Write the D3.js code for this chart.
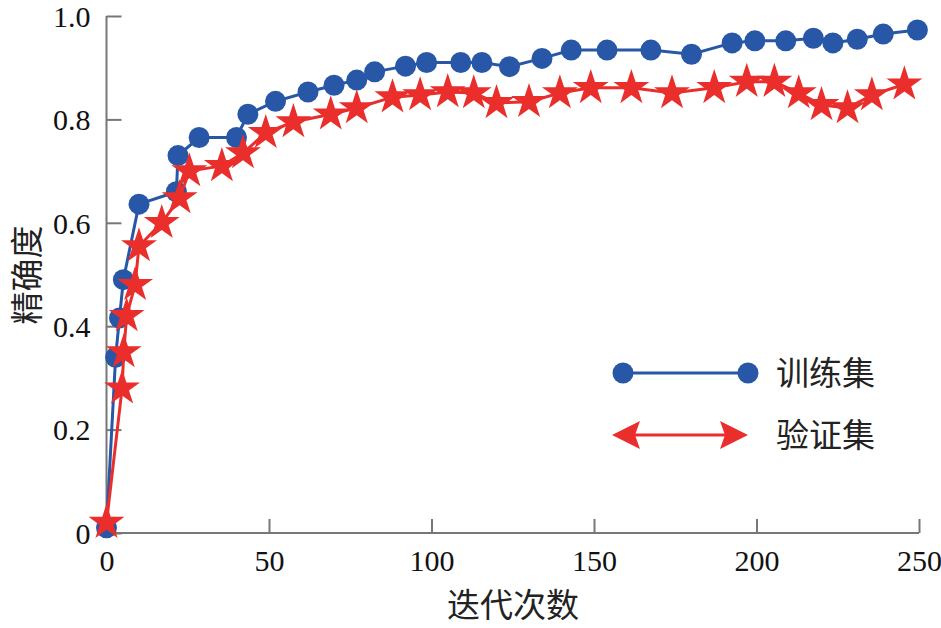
<!DOCTYPE html>
<html>
<head>
<meta charset="utf-8">
<script src="https://cdn.jsdelivr.net/npm/d3@7"></script>
<style>
  body { margin: 0; background: #fff; }
  svg { display: block; }
</style>
</head>
<body>
<div class="vis"></div>
<script>
// 训练集 (迭代次数, 精确度)
const trainX = [0, 2.8, 4, 5.2, 10, 21.5, 22, 28.5, 40, 43.5, 52, 62, 70, 77, 82.5, 92, 98.5, 109, 115.5, 124, 134, 143, 154, 167.5, 180, 192.5, 199.5, 209, 217.5, 223.5, 231, 239, 249.5]
const trainY = [0.01, 0.34, 0.416, 0.49, 0.636, 0.66, 0.73, 0.765, 0.765, 0.81, 0.835, 0.853, 0.866, 0.876, 0.892, 0.903, 0.91, 0.91, 0.91, 0.902, 0.918, 0.934, 0.934, 0.934, 0.926, 0.948, 0.952, 0.952, 0.957, 0.948, 0.955, 0.965, 0.973]
// 验证集
const valX = [0, 4.8, 5.3, 6.2, 8.8, 10, 17, 22.5, 25.5, 35.5, 42, 49, 57.5, 69, 77, 88, 96.5, 105, 113, 120, 130, 139.5, 149, 161.5, 174, 187, 197, 205.5, 213, 220, 228, 235.5, 245.5]
const valY = [0.02, 0.28, 0.35, 0.42, 0.48, 0.555, 0.60, 0.648, 0.70, 0.71, 0.735, 0.774, 0.795, 0.81, 0.822, 0.843, 0.847, 0.853, 0.851, 0.832, 0.834, 0.851, 0.861, 0.861, 0.851, 0.861, 0.873, 0.873, 0.851, 0.828, 0.822, 0.847, 0.868]

const xTicks = [0, 50, 100, 150, 200, 250]
const yTicks = [0, 0.2, 0.4, 0.6, 0.8, 1.0]
const legendNames = ['训练集', '验证集']

const w = 941
const h = 628
const blue = '#2757a6'
const red = '#e92e2b'
const axisColor = '#777'

const svg = d3.select('.vis').append('svg')
    .attr('width', w)
    .attr('height', h)

const x = d3.scaleLinear().domain([0, 250]).range([106.5, 919])
const y = d3.scaleLinear().domain([0, 1]).range([533, 16])

// 坐标轴 (刻度朝内)
const xAxis = d3.axisTop(x).tickValues(xTicks).tickSize(14).tickSizeOuter(0).tickFormat(d3.format('d'))
const yAxis = d3.axisRight(y).tickValues(yTicks).tickSize(15).tickSizeOuter(0)
    .tickFormat(d => d === 0 ? '0' : d3.format('.1f')(d))

const gx = svg.append('g').attr('transform', 'translate(0,533)').call(xAxis)
gx.select('.domain').attr('stroke', axisColor).attr('stroke-width', 2)
    .attr('d', 'M' + x(0) + ',0H' + x(250))
gx.selectAll('.tick line').attr('stroke', axisColor).attr('stroke-width', 2)
gx.selectAll('.tick text')
    .attr('y', 38).attr('dy', 0)
    .attr('font-family', '"Liberation Serif", "Times New Roman", serif')
    .attr('font-size', 30).attr('fill', '#111')
    .attr('text-anchor', 'middle')

const gy = svg.append('g').attr('transform', 'translate(' + x(0) + ',0)').call(yAxis)
gy.select('.domain').attr('stroke', axisColor).attr('stroke-width', 2)
    .attr('d', 'M0,' + y(1) + 'V' + y(0))
gy.selectAll('.tick line').attr('stroke', axisColor).attr('stroke-width', 2)
gy.selectAll('.tick text')
    .attr('x', -16).attr('dy', '0.34em')
    .attr('font-family', '"Liberation Serif", "Times New Roman", serif')
    .attr('font-size', 30).attr('fill', '#111')
    .attr('text-anchor', 'end')

// 折线
const line = d3.line().x(d => x(d[0])).y(d => y(d[1]))
const trainData = trainX.map((v, i) => [v, trainY[i]])
const valData = valX.map((v, i) => [v, valY[i]])

svg.append('path').datum(trainData)
    .attr('d', line).attr('fill', 'none').attr('stroke', blue).attr('stroke-width', 3)
svg.selectAll('.train-pt').data(trainData).enter().append('circle')
    .attr('class', 'train-pt')
    .attr('cx', d => x(d[0])).attr('cy', d => y(d[1])).attr('r', 10.5)
    .attr('fill', blue)

svg.append('path').datum(valData)
    .attr('d', line).attr('fill', 'none').attr('stroke', red).attr('stroke-width', 3)
const star = d3.symbol().type(d3.symbolStar).size(400)
svg.selectAll('.val-pt').data(valData).enter().append('path')
    .attr('class', 'val-pt')
    .attr('d', star)
    .attr('transform', d => 'translate(' + x(d[0]) + ',' + y(d[1]) + ')')
    .attr('fill', red)

// 图例
const lg = svg.append('g')
lg.append('line').attr('x1', 623).attr('x2', 748).attr('y1', 373).attr('y2', 373)
    .attr('stroke', blue).attr('stroke-width', 3)
lg.selectAll('.lg-dot').data([623, 748]).enter().append('circle')
    .attr('cx', d => d).attr('cy', 373).attr('r', 10.5).attr('fill', blue)
lg.append('line').attr('x1', 630).attr('x2', 730).attr('y1', 435).attr('y2', 435)
    .attr('stroke', red).attr('stroke-width', 3)
lg.append('path').attr('d', 'M612,435L640,421L635,435L640,449Z').attr('fill', red)
lg.append('path').attr('d', 'M748,435L720,421L725,435L720,449Z').attr('fill', red)
lg.selectAll('.lg-text').data(legendNames).enter().append('text')
    .attr('x', 776).attr('y', (d, i) => 373 + i * 62)
    .attr('dy', '0.36em')
    .attr('font-family', '"Noto Sans CJK SC", sans-serif')
    .attr('font-size', 33).attr('fill', '#222')
    .text(d => d)

// 轴标题
svg.append('text')
    .attr('x', 513).attr('y', 617)
    .attr('text-anchor', 'middle')
    .attr('font-family', '"Noto Sans CJK SC", sans-serif')
    .attr('font-size', 33).attr('fill', '#222')
    .text('迭代次数')

svg.append('text')
    .attr('transform', 'translate(39,275) rotate(-90)')
    .attr('text-anchor', 'middle')
    .attr('font-family', '"Noto Sans CJK SC", sans-serif')
    .attr('font-size', 33).attr('fill', '#222')
    .text('精确度')
</script>
</body>
</html>
